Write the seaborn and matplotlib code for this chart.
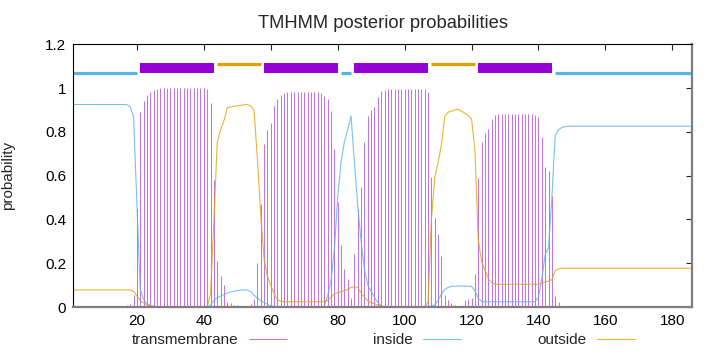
import numpy as np
import matplotlib
matplotlib.use("Agg")
import matplotlib.pyplot as plt
from matplotlib.ticker import FuncFormatter
import seaborn as sns

# residue numbers 1..186
residue = list(range(1, 187))

# posterior probability of transmembrane helix per residue
transmembrane = [
    0, 0, 0, 0, 0, 0, 0, 0, 0, 0,
    0, 0, 0.002, 0.003, 0.004, 0.005, 0.008, 0.012, 0.055, 0.45,
    0.89, 0.94, 0.968, 0.984, 0.99, 0.996, 0.999, 1.0, 1.0, 1.0,
    1.0, 1.0, 1.0, 1.0, 1.0, 1.0, 1.0, 1.0, 1.0, 1.0,
    0.998, 0.93, 0.58, 0.21, 0.14, 0.10, 0.025, 0.02, 0.01, 0.008,
    0.006, 0.005, 0.006, 0.012, 0.036, 0.20, 0.47, 0.745, 0.81, 0.84,
    0.92, 0.95, 0.97, 0.979, 0.98, 0.981, 0.981, 0.981, 0.981, 0.981,
    0.981, 0.981, 0.98, 0.98, 0.976, 0.964, 0.949, 0.897, 0.72, 0.48,
    0.283, 0.172, 0.126, 0.04, 0.242, 0.45, 0.55, 0.752, 0.873, 0.90,
    0.915, 0.961, 0.988, 0.99, 0.994, 0.995, 0.995, 0.995, 0.995, 0.995,
    0.995, 0.995, 0.995, 0.995, 0.995, 0.994, 0.984, 0.595, 0.405, 0.333,
    0.233, 0.055, 0.032, 0.02, 0.01, 0.005, 0.01, 0.03, 0.036, 0.04,
    0.15, 0.59, 0.755, 0.796, 0.813, 0.859, 0.879, 0.88, 0.881, 0.881,
    0.881, 0.881, 0.881, 0.881, 0.881, 0.881, 0.88, 0.88, 0.878, 0.867,
    0.775, 0.64, 0.623, 0.508, 0.05, 0.025, 0.005, 0, 0, 0,
    0, 0, 0, 0, 0, 0, 0, 0, 0, 0,
    0, 0, 0, 0, 0, 0, 0, 0, 0, 0,
    0, 0, 0, 0, 0, 0, 0, 0, 0, 0,
    0, 0, 0, 0, 0, 0,
]

inside = [
    0.925, 0.925, 0.925, 0.925, 0.925, 0.925, 0.925, 0.925, 0.925, 0.925,
    0.925, 0.925, 0.925, 0.925, 0.925, 0.925, 0.924, 0.915, 0.87, 0.48,
    0.08, 0.035, 0.015, 0.008, 0.003, 0.001, 0, 0, 0, 0,
    0, 0, 0, 0, 0, 0, 0, 0, 0, 0,
    0.001, 0.01, 0.03, 0.042, 0.05, 0.057, 0.063, 0.068, 0.072, 0.075,
    0.077, 0.078, 0.078, 0.07, 0.055, 0.04, 0.03, 0.02, 0.012, 0.006,
    0.002, 0, 0, 0, 0, 0, 0, 0, 0, 0,
    0, 0, 0, 0, 0, 0.005, 0.05, 0.12, 0.26, 0.50,
    0.66, 0.755, 0.81, 0.873, 0.66, 0.46, 0.30, 0.17, 0.10, 0.07,
    0.045, 0.02, 0.005, 0, 0, 0, 0, 0, 0, 0,
    0, 0, 0, 0, 0, 0, 0.002, 0.005, 0.01, 0.03,
    0.06, 0.08, 0.09, 0.094, 0.095, 0.096, 0.096, 0.095, 0.095, 0.094,
    0.075, 0.04, 0.026, 0.024, 0.024, 0.024, 0.024, 0.024, 0.024, 0.024,
    0.024, 0.024, 0.024, 0.024, 0.024, 0.024, 0.024, 0.024, 0.024, 0.045,
    0.13, 0.24, 0.27, 0.50, 0.785, 0.81, 0.82, 0.824, 0.826, 0.826,
    0.826, 0.826, 0.826, 0.826, 0.826, 0.826, 0.826, 0.826, 0.826, 0.826,
    0.826, 0.826, 0.826, 0.826, 0.826, 0.826, 0.826, 0.826, 0.826, 0.826,
    0.826, 0.826, 0.826, 0.826, 0.826, 0.826, 0.826, 0.826, 0.826, 0.826,
    0.826, 0.826, 0.826, 0.826, 0.826, 0.826,
]

outside = [
    0.078, 0.078, 0.078, 0.078, 0.078, 0.078, 0.078, 0.078, 0.078, 0.078,
    0.078, 0.078, 0.078, 0.078, 0.078, 0.078, 0.078, 0.078, 0.072, 0.05,
    0.03, 0.02, 0.01, 0.005, 0.002, 0.002, 0.002, 0.002, 0.002, 0.002,
    0.002, 0.002, 0.002, 0.002, 0.002, 0.002, 0.002, 0.002, 0.002, 0.002,
    0.002, 0.06, 0.39, 0.75, 0.81, 0.85, 0.91, 0.914, 0.917, 0.919,
    0.921, 0.924, 0.925, 0.918, 0.90, 0.68, 0.42, 0.22, 0.14, 0.10,
    0.06, 0.035, 0.026, 0.024, 0.024, 0.024, 0.024, 0.024, 0.024, 0.024,
    0.024, 0.024, 0.024, 0.024, 0.024, 0.025, 0.03, 0.045, 0.06, 0.066,
    0.07, 0.074, 0.08, 0.09, 0.092, 0.088, 0.065, 0.045, 0.028, 0.02,
    0.015, 0.01, 0.004, 0.002, 0.002, 0.002, 0.002, 0.002, 0.002, 0.002,
    0.002, 0.002, 0.002, 0.002, 0.002, 0.002, 0.02, 0.40, 0.59, 0.66,
    0.74, 0.87, 0.89, 0.895, 0.90, 0.903, 0.895, 0.885, 0.875, 0.86,
    0.72, 0.31, 0.207, 0.169, 0.131, 0.111, 0.105, 0.104, 0.104, 0.104,
    0.104, 0.104, 0.104, 0.104, 0.104, 0.104, 0.104, 0.104, 0.104, 0.104,
    0.11, 0.115, 0.118, 0.125, 0.165, 0.175, 0.177, 0.177, 0.177, 0.177,
    0.177, 0.177, 0.177, 0.177, 0.177, 0.177, 0.177, 0.177, 0.177, 0.177,
    0.177, 0.177, 0.177, 0.177, 0.177, 0.177, 0.177, 0.177, 0.177, 0.177,
    0.177, 0.177, 0.177, 0.177, 0.177, 0.177, 0.177, 0.177, 0.177, 0.177,
    0.177, 0.177, 0.177, 0.177, 0.177, 0.177,
]

# predicted topology (start, end)
tm_start = [21, 58, 85, 122]
tm_end = [43, 80, 107, 144]
in_start = [1, 81, 145]
in_end = [20, 84, 186]
out_start = [44, 108]
out_end = [57, 121]

c_tm = "#9400d3"
c_in = "#56b4e9"
c_out = "#e69f00"

sns.set_style("white")
plt.rcParams["font.family"] = ["Liberation Sans", "DejaVu Sans"]
plt.rcParams["font.size"] = 11

fig = plt.figure(figsize=(7.2, 3.52), dpi=100)
ax = fig.add_axes([0.1018, 0.1278, 0.8599, 0.7463])

# impulses for transmembrane
ax.vlines(residue, 0, transmembrane, color=c_tm, lw=0.75, alpha=0.55,
          label="transmembrane")
sns.lineplot(x=residue, y=inside, color=c_in, lw=0.8, alpha=0.8, ax=ax,
             label="inside")
sns.lineplot(x=residue, y=outside, color=c_out, lw=0.8, alpha=0.8, ax=ax,
             label="outside")

# topology bars on top
ax.hlines([1.09] * len(tm_start), tm_start, tm_end, color=c_tm, lw=7.2)
ax.hlines([1.07] * len(in_start), in_start, in_end, color=c_in, lw=2.3)
ax.hlines([1.11] * len(out_start), out_start, out_end, color=c_out, lw=2.3)

ax.set_xlim(1, 186)
ax.set_ylim(0, 1.2)
ax.set_xticks(range(20, 181, 20))
ax.set_yticks(np.arange(0, 1.21, 0.2))
ax.yaxis.set_major_formatter(FuncFormatter(lambda v, p: "%g" % round(v, 1)))
ax.tick_params(direction="in", length=4, width=0.8, top=True, right=True,
               colors="#222222", labelcolor="black", pad=5)

for s in ["left", "top"]:
    ax.spines[s].set_color("black")
    ax.spines[s].set_linewidth(0.8)
for s in ["bottom", "right"]:
    ax.spines[s].set_color("#7f7f7f")
    ax.spines[s].set_linewidth(1.6)

ax.set_title("TMHMM posterior probabilities", pad=12)
ax.set_ylabel("probability")
ax.yaxis.set_label_coords(-0.094, 0.5)
ax.set_xlabel("")

# gnuplot-like key: equal columns, text right-aligned before the sample
ax.get_legend().remove()
h, l = ax.get_legend_handles_labels()
key_right = [287 / 720, 461 / 720, 635 / 720]
for hh, ll, xr in zip(h, l, key_right):
    fig.legend([hh], [ll], loc="center right", bbox_to_anchor=(xr, 0.034),
               markerfirst=False, frameon=False, handlelength=2.5,
               handletextpad=0.65, borderpad=0, borderaxespad=0)

fig.savefig("out.png", dpi=100)
